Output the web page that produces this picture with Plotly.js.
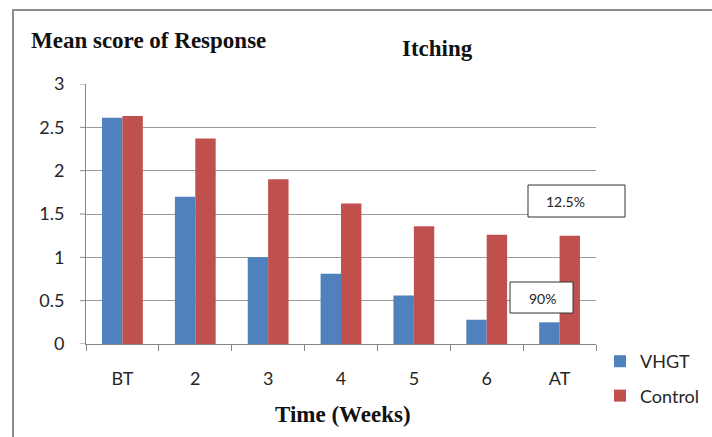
<!DOCTYPE html>
<html><head><meta charset="utf-8">
<script src="https://cdn.plot.ly/plotly-3.0.1.min.js"></script>
<style>html,body{margin:0;padding:0;background:#fff;}#c{width:712px;height:437px;}</style>
</head><body><div id="c"></div>
<script>
var categories = ['BT','2','3','4','5','6','AT'];
var vhgt = [2.61, 1.70, 1.00, 0.81, 0.56, 0.28, 0.25];
var control = [2.63, 2.37, 1.90, 1.62, 1.36, 1.26, 1.25];
var seriesNames = ['VHGT','Control'];
var yTicks = [0, 0.5, 1, 1.5, 2, 2.5, 3];
var yTickText = ['0','0.5','1','1.5','2','2.5','3'];

var W = 712, H = 437, L = 86, R = 116, T = 84, B = 93;
var pw = W - L - R, ph = H - T - B;
function px(x){ return (x - L) / pw; }
function py(y){ return (H - B - y) / ph; }

var tickFont = {family:'Lato, "Open Sans", sans-serif', size:18, color:'#262626'};
var serif = 'Liberation Serif, "Times New Roman", serif';
var boxFont = {family:'Lato, "Open Sans", sans-serif', size:14, color:'#222'};

var traces = [
  {type:'bar', x:categories, y:vhgt, name:seriesNames[0], marker:{color:'#4F81BD'}, legendgroup:'a'},
  {type:'bar', x:categories, y:control, name:seriesNames[1], marker:{color:'#C0504D'}, legendgroup:'b'}
];

var shapes = [
  {type:'rect', xref:'paper', yref:'paper', x0:px(13), x1:px(716), y0:py(441), y1:py(10),
   line:{color:'#8c8c8c', width:2}, fillcolor:'rgba(0,0,0,0)', layer:'below'},
  {type:'rect', xref:'paper', yref:'paper', x0:px(528), x1:px(625), y0:py(217), y1:py(185),
   line:{color:'#333', width:1}, fillcolor:'#fff', layer:'above'},
  {type:'rect', xref:'paper', yref:'paper', x0:px(510), x1:px(573), y0:py(313), y1:py(282),
   line:{color:'#333', width:1}, fillcolor:'#fff', layer:'above'}
];
// short visible y tick marks (the axis' own ticks are longer and transparent to push labels out)
yTicks.forEach(function(v){
  shapes.push({type:'line', xref:'paper', yref:'y', x0:px(80), x1:0, y0:v, y1:v,
               line:{color:'#868686', width:1}, layer:'above'});
});

var layout = {
  width:W, height:H,
  margin:{l:L, r:R, t:T, b:B, pad:0},
  paper_bgcolor:'#fff', plot_bgcolor:'#fff',
  barmode:'group', bargap:0.44, bargroupgap:0,
  showlegend:true,
  legend:{xref:'container', yref:'container', x:600/W, y:(H-343)/H, xanchor:'left', yanchor:'top',
          font:tickFont, traceorder:'grouped', tracegroupgap:8, itemwidth:30,
          bgcolor:'rgba(0,0,0,0)'},
  xaxis:{type:'category', showline:true, linecolor:'#868686', linewidth:1,
         ticks:'outside', tickson:'boundaries', ticklen:6, tickcolor:'#868686',
         tickfont:tickFont, ticklabelstandoff:18, showgrid:false, fixedrange:true, automargin:false},
  yaxis:{range:[0,3], tickmode:'array', tickvals:yTicks, ticktext:yTickText,
         showline:true, linecolor:'#868686',
         ticks:'outside', ticklen:17, tickcolor:'rgba(0,0,0,0)', tickfont:tickFont,
         showgrid:true, gridcolor:'#9a9a9a', gridwidth:1, zeroline:false, fixedrange:true, automargin:false},
  shapes:shapes,
  annotations:[
    {text:'<b>Mean score of Response</b>', xref:'paper', yref:'paper', x:px(29), y:py(41),
     xanchor:'left', yanchor:'middle', showarrow:false, font:{family:serif, size:23, color:'#111'}},
    {text:'<b>Itching</b>', xref:'paper', yref:'paper', x:px(437), y:py(48),
     xanchor:'center', yanchor:'middle', showarrow:false, font:{family:serif, size:23, color:'#111'}},
    {text:'<b>Time (Weeks)</b>', xref:'paper', yref:'paper', x:px(343), y:py(414),
     xanchor:'center', yanchor:'middle', showarrow:false, font:{family:serif, size:23, color:'#111'}},
    {text:'12.5%', xref:'paper', yref:'paper', x:px(565), y:py(201),
     xanchor:'center', yanchor:'middle', showarrow:false, font:boxFont},
    {text:'90%', xref:'paper', yref:'paper', x:px(542), y:py(298),
     xanchor:'center', yanchor:'middle', showarrow:false, font:boxFont}
  ]
};
Plotly.newPlot('c', traces, layout, {displayModeBar:false, staticPlot:true});
</script></body></html>
